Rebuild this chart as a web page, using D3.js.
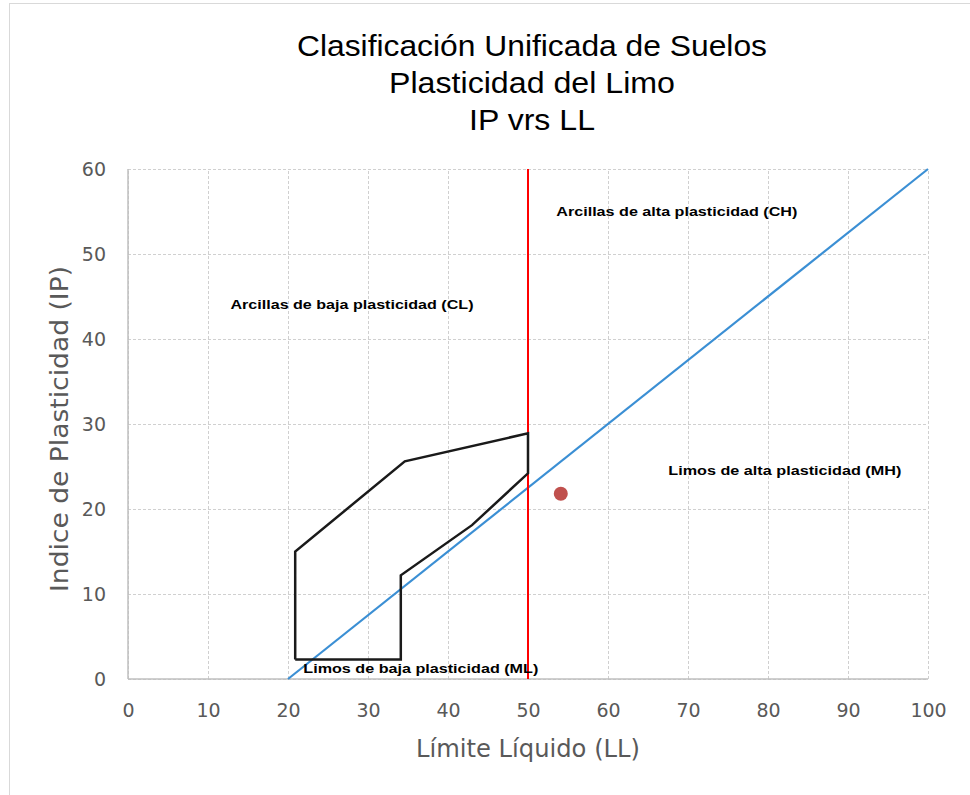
<!DOCTYPE html>
<html>
<head>
<meta charset="utf-8">
<script src="https://cdn.jsdelivr.net/npm/d3@7"></script>
<style>
  html, body { margin: 0; padding: 0; background: #fff; }
  svg text { font-family: "Liberation Sans", Arial, sans-serif; }
</style>
</head>
<body>
<div id="chart-container"></div>
<script>
// chart data
const titleLines = ['Clasificación Unificada de Suelos', 'Plasticidad del Limo', 'IP vrs LL'];
const xTicks = [0, 10, 20, 30, 40, 50, 60, 70, 80, 90, 100];
const yTicks = [0, 10, 20, 30, 40, 50, 60];
const lineA = [[20, 0], [100, 60]];           // blue line
const limitLL = [[50, 0], [50, 60]];          // red vertical line at LL = 50
const zone = [[20.9, 2.3], [34.1, 2.3], [34.1, 12.2], [43.0, 18.1], [50.0, 24.2],
              [50.0, 28.9], [34.6, 25.6], [20.9, 15.0], [20.9, 2.3]];
const sample = [[54.1, 21.8]];
const zoneNames = ['Arcillas de baja plasticidad (CL)', 'Arcillas de alta plasticidad (CH)',
                   'Limos de alta plasticidad (MH)', 'Limos de baja plasticidad (ML)'];
const zoneAt = [[28, 44], [68.6, 55], [82.1, 24.5], [36.6, 1.2]];

const W = 970, H = 795;
const margin = { top: 169, right: 42, bottom: 116, left: 128 };
const width = W - margin.left - margin.right;
const height = H - margin.top - margin.bottom;

const root = d3.select('#chart-container').append('svg')
  .attr('width', W).attr('height', H);

// outer frame of the chart area
root.append('rect')
  .attr('x', 9.5).attr('y', 3.5).attr('width', 1000).attr('height', 1000)
  .attr('fill', 'none').attr('stroke', '#d9d9d9');

// title
root.append('g').selectAll('text')
  .data(titleLines)
  .enter().append('text')
  .attr('x', 532).attr('y', (d, i) => 56 + i * 37)
  .attr('text-anchor', 'middle')
  .attr('font-size', 30)
  .attr('fill', '#000')
  .attr('textLength', (d, i) => [470, 286, 126][i])
  .attr('lengthAdjust', 'spacingAndGlyphs')
  .text(d => d);

const svg = root.append('g')
  .attr('transform', `translate(${margin.left}, ${margin.top})`);

const x = d3.scaleLinear().domain([0, 100]).range([0, width]);
const y = d3.scaleLinear().domain([0, 60]).range([height, 0]);

// gridlines
svg.append('g')
  .attr('transform', `translate(0, ${height})`)
  .call(d3.axisBottom(x).tickValues(xTicks).tickSize(-height).tickFormat(''))
  .call(g => g.select('.domain').remove())
  .call(g => g.selectAll('line').attr('stroke', '#d0d0d0').attr('stroke-dasharray', '3,2'));

svg.append('g')
  .call(d3.axisLeft(y).tickValues(yTicks).tickSize(-width).tickFormat(''))
  .call(g => g.select('.domain').remove())
  .call(g => g.selectAll('line').attr('stroke', '#d0d0d0').attr('stroke-dasharray', '3,2'));

// axis lines
svg.append('line').attr('x1', 0).attr('x2', 0).attr('y1', 0).attr('y2', height)
  .attr('stroke', '#bfbfbf').attr('stroke-width', 1.5);
svg.append('line').attr('x1', 0).attr('x2', width).attr('y1', height).attr('y2', height)
  .attr('stroke', '#bfbfbf').attr('stroke-width', 1.5);

// tick labels
const xAxis = svg.append('g')
  .attr('transform', `translate(0, ${height})`)
  .call(d3.axisBottom(x).tickValues(xTicks).tickSize(0).tickPadding(25));
xAxis.select('.domain').remove();
xAxis.selectAll('text').attr('font-size', 19).attr('fill', '#595959')
  .style('font-family', '"DejaVu Sans", sans-serif');

const yAxis = svg.append('g')
  .call(d3.axisLeft(y).tickValues(yTicks).tickSize(0).tickPadding(22));
yAxis.select('.domain').remove();
yAxis.selectAll('text').attr('font-size', 19).attr('fill', '#595959')
  .style('font-family', '"DejaVu Sans", sans-serif');

// axis titles
svg.append('text')
  .attr('x', x(50)).attr('y', height + 78)
  .attr('text-anchor', 'middle')
  .attr('font-size', 24).attr('fill', '#595959')
  .attr('textLength', 224).attr('lengthAdjust', 'spacingAndGlyphs')
  .style('font-family', '"DejaVu Sans", sans-serif')
  .text('Límite Líquido (LL)');

svg.append('text')
  .attr('transform', `translate(-60, ${y(30) + 5}) rotate(-90)`)
  .attr('text-anchor', 'middle')
  .attr('font-size', 24).attr('fill', '#595959')
  .attr('textLength', 326).attr('lengthAdjust', 'spacingAndGlyphs')
  .style('font-family', '"DejaVu Sans", sans-serif')
  .text('Indice de Plasticidad (IP)');

const line = d3.line().x(d => x(d[0])).y(d => y(d[1]));

// blue line
svg.append('path').datum(lineA)
  .attr('d', line).attr('fill', 'none')
  .attr('stroke', '#3b8fd4').attr('stroke-width', 2.2);

// red limit line
svg.append('path').datum(limitLL)
  .attr('d', line).attr('fill', 'none')
  .attr('stroke', '#ff0000').attr('stroke-width', 2);

// silt zone outline
svg.append('path').datum(zone)
  .attr('d', line).attr('fill', 'none')
  .attr('stroke', '#1a1a1a').attr('stroke-width', 2.5)
  .attr('stroke-linejoin', 'miter');

// sample point
svg.selectAll('.pt')
  .data(sample)
  .enter().append('circle')
  .attr('class', 'pt')
  .attr('cx', d => x(d[0])).attr('cy', d => y(d[1]))
  .attr('r', 7).attr('fill', '#c0504d');

// zone labels
svg.selectAll('.zone-label')
  .data(zoneNames)
  .enter().append('text')
  .attr('class', 'zone-label')
  .attr('x', (d, i) => x(zoneAt[i][0])).attr('y', (d, i) => y(zoneAt[i][1]) + 4)
  .attr('text-anchor', 'middle')
  .attr('font-size', 12.5).attr('font-weight', 'bold').attr('fill', '#000')
  .attr('textLength', (d, i) => [243, 241, 233, 235][i])
  .attr('lengthAdjust', 'spacingAndGlyphs')
  .text(d => d);
</script>
</body>
</html>
